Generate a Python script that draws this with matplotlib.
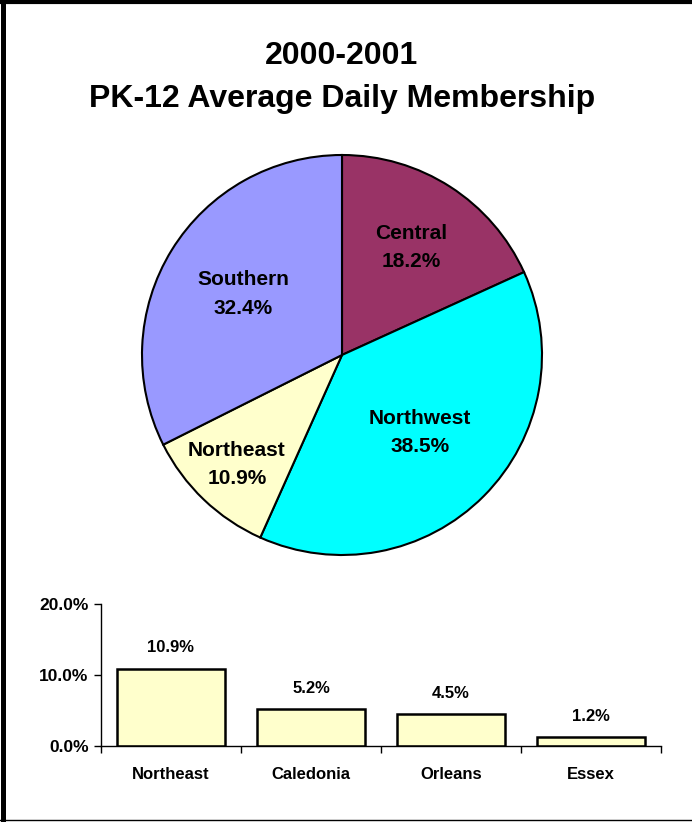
import matplotlib
matplotlib.use('Agg')
import matplotlib.pyplot as plt
import numpy as np
from matplotlib.lines import Line2D

plt.rcParams['font.family'] = ['Liberation Sans', 'DejaVu Sans']
plt.rcParams['font.weight'] = 'bold'

# pie data (clockwise from 12 o'clock)
regions = ['Central', 'Northwest', 'Northeast', 'Southern']
shares = [18.2, 38.5, 10.9, 32.4]
region_colors = ['#993366', '#00FFFF', '#FFFFCC', '#9999FF']
label_dist = [0.64, 0.55, 0.76, 0.58]

# bar data
counties = ['Northeast', 'Caledonia', 'Orleans', 'Essex']
county_pct = [10.9, 5.2, 4.5, 1.2]
yticks = [0, 10, 20]

W, H = 692, 822
fig = plt.figure(figsize=(W / 100, H / 100), dpi=100)

fig.text(342 / W, 1 - 56 / H, '2000-2001', ha='center', va='center',
         fontsize=23, fontweight='bold')
fig.text(342 / W, 1 - 99 / H, 'PK-12 Average Daily Membership', ha='center',
         va='center', fontsize=23, fontweight='bold')

# pie
cx, cy, r = 342, 355, 200
ax = fig.add_axes([(cx - r) / W, 1 - (cy + r) / H, 2 * r / W, 2 * r / H])
wedges, _ = ax.pie(shares, colors=region_colors, startangle=90, counterclock=False,
                   wedgeprops=dict(edgecolor='black', linewidth=1.5))
ax.set_xlim(-1, 1)
ax.set_ylim(-1, 1)
ax.set_aspect('equal')
ax.axis('off')
for w, name, val, d in zip(wedges, regions, shares, label_dist):
    ang = np.deg2rad((w.theta1 + w.theta2) / 2)
    ax.text(d * np.cos(ang), d * np.sin(ang), f'{name}\n{val:.1f}%',
            ha='center', va='center', fontsize=15, fontweight='bold',
            linespacing=1.62)

# bars
bx = fig.add_axes([101 / W, 1 - 746 / H, 560 / W, 142 / H])
x = np.arange(len(counties))
bx.bar(x, county_pct, width=0.77, color='#FFFFCC', edgecolor='black', linewidth=1.8)
for xi, v in zip(x, county_pct):
    bx.annotate(f'{v:.1f}%', (xi, v), xytext=(0, 15), textcoords='offset points',
                ha='center', va='center', fontsize=12, fontweight='bold')
bx.set_xlim(-0.5, len(counties) - 0.5)
bx.set_ylim(0, 20)
bx.set_yticks(yticks)
bx.set_yticklabels([f'{t:.1f}%' for t in yticks], fontsize=12.5, fontweight='bold')
bx.set_xticks(np.arange(len(counties) + 1) - 0.5)
bx.set_xticklabels([])
bx.set_xticks(x, minor=True)
bx.set_xticklabels(counties, minor=True, fontsize=12, fontweight='bold')
bx.tick_params(axis='x', which='minor', length=0, pad=15)
bx.tick_params(axis='x', which='major', length=5, width=1, direction='out')
bx.tick_params(axis='y', length=5, width=1, direction='out', pad=4)
for s in ['top', 'right']:
    bx.spines[s].set_visible(False)
for s in ['left', 'bottom']:
    bx.spines[s].set_linewidth(1)

# frame lines
fig.add_artist(Line2D([2.5 / W, 2.5 / W], [0, 1], color='black', linewidth=3.6))
fig.add_artist(Line2D([0, 1], [1 - 2 / H, 1 - 2 / H], color='black', linewidth=3))
fig.add_artist(Line2D([0, 1], [1 - 820 / H, 1 - 820 / H], color='black', linewidth=1))

fig.savefig('out.png', dpi=100)
